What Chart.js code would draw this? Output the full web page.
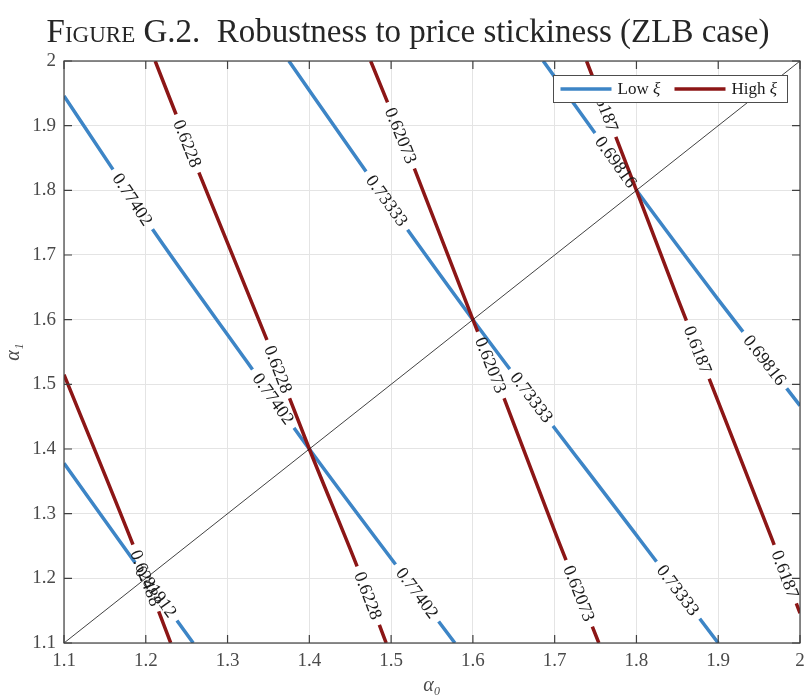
<!DOCTYPE html>
<html>
<head>
<meta charset="utf-8">
<script src="https://cdn.jsdelivr.net/npm/chart.js@4.4.1/dist/chart.umd.min.js"></script>
<style>
  body { margin: 0; background: #fff; }
  #wrap { position: relative; width: 806px; height: 698px; }
  #fig-title { position: absolute; top: 13px; left: 0; width: 816px; text-align: center;
    font: 33px 'Liberation Serif', serif; color: #262626; white-space: nowrap; }
  #fig-title .sc { font-variant: small-caps; }
  canvas { position: absolute; left: 0; top: 0; }
</style>
</head>
<body>
<div id="wrap">
  <canvas id="contours" width="806" height="698"></canvas>
  <div id="fig-title"><span class="sc">Figure</span> G.2.&nbsp; Robustness to price stickiness (ZLB case)</div>
</div>
<script>
/* contour levels, contour paths as (alpha0, alpha1) points, label spots (alpha0) */

const lowLevels = ['0.69816', '0.73333', '0.77402', '0.81912'];
const lowContours = [
  [[1.686, 2.0], [1.8, 1.8], [1.9, 1.631], [2.0, 1.467]],
  [[1.375, 2.0], [1.47, 1.828], [1.6, 1.6], [1.804, 1.26], [1.9, 1.1]],
  [[1.1, 1.946], [1.16, 1.832], [1.207, 1.742], [1.322, 1.538], [1.4, 1.4], [1.578, 1.1]],
  [[1.1, 1.378], [1.187, 1.224], [1.258, 1.1]]
];
const lowLabelAt = [[1.775, 1.957], [1.495, 1.672, 1.851], [1.184, 1.356, 1.532], [1.2125]];

const highLevels = ['0.6187', '0.62073', '0.6228', '0.62488'];
const highContours = [
  [[1.739, 2.0], [1.8, 1.8], [1.851, 1.631], [1.966, 1.26], [2.0, 1.146]],
  [[1.475, 2.0], [1.528, 1.835], [1.6, 1.6], [1.637, 1.482], [1.704, 1.26], [1.754, 1.1]],
  [[1.2115, 2.0], [1.2645, 1.829], [1.348, 1.569], [1.4, 1.4], [1.4595, 1.215], [1.494, 1.1]],
  [[1.1, 1.515], [1.185, 1.25], [1.2305, 1.1]]
];
const highLabelAt = [[1.761, 1.875, 1.982], [1.512, 1.622, 1.73], [1.251, 1.362, 1.472], [1.2]];

const diagonal = [[1.1, 1.1], [2.0, 2.0]];
const axisMin = 1.1, axisMax = 2.0, axisStep = 0.1;

const LOW_COLOR = '#3d85c6';
const HIGH_COLOR = '#8c1616';
const SERIF = '"Liberation Serif", "DejaVu Serif", serif';
const LABEL_FONT = '18px ' + SERIF;
const GAP_PAD = 6.5;
const TICK = 8;

const toPoints = pts => pts.map(([x, y]) => ({ x, y }));

function contourSets(levels, paths, spots, color, order) {
  return levels.map((level, i) => ({
    label: level,
    level,
    labelAt: spots[i],
    data: toPoints(paths[i]),
    borderColor: color,
    borderWidth: 3.5,
    cubicInterpolationMode: 'monotone',
    pointRadius: 0,
    order
  }));
}

// where each label sits on its contour, in pixels, with the local slope angle
function labelSpots(chart, ds) {
  const xs = chart.scales.x, ys = chart.scales.y, ctx = chart.ctx;
  ctx.save();
  ctx.font = LABEL_FONT;
  const w = ctx.measureText(ds.level).width;
  ctx.restore();
  return ds.labelAt.map(a0 => {
    const pts = ds.data;
    let i = 0;
    while (i < pts.length - 2 && pts[i + 1].x < a0) i++;
    const p = pts[i], q = pts[i + 1];
    const t = (a0 - p.x) / (q.x - p.x);
    const a1 = p.y + t * (q.y - p.y);
    const dx = xs.getPixelForValue(q.x) - xs.getPixelForValue(p.x);
    const dy = ys.getPixelForValue(q.y) - ys.getPixelForValue(p.y);
    return { x: xs.getPixelForValue(a0), y: ys.getPixelForValue(a1), angle: Math.atan2(dy, dx), w };
  });
}

/* break each contour under its labels, then write the labels along the line */
const contourLabels = {
  id: 'contourLabels',
  beforeDatasetDraw(chart, args) {
    const ds = chart.data.datasets[args.index];
    if (!ds.labelAt) return;
    const ctx = chart.ctx;
    ctx.save();
    ctx.beginPath();
    ctx.rect(0, 0, chart.width, chart.height);
    labelSpots(chart, ds).forEach(s => {
      const c = Math.cos(s.angle), sn = Math.sin(s.angle);
      const hw = s.w / 2 + GAP_PAD, hh = 6;
      [[-hw, -hh], [hw, -hh], [hw, hh], [-hw, hh]].forEach(([u, v], k) => {
        const px = s.x + u * c - v * sn, py = s.y + u * sn + v * c;
        k ? ctx.lineTo(px, py) : ctx.moveTo(px, py);
      });
      ctx.closePath();
    });
    ctx.clip('evenodd');
  },
  afterDatasetDraw(chart, args) {
    if (chart.data.datasets[args.index].labelAt) chart.ctx.restore();
  },
  afterDatasetsDraw(chart) {
    const ctx = chart.ctx;
    chart.data.datasets.forEach(ds => {
      if (!ds.labelAt) return;
      labelSpots(chart, ds).forEach(s => {
        ctx.save();
        ctx.translate(s.x, s.y);
        ctx.rotate(s.angle);
        ctx.font = LABEL_FONT;
        ctx.fillStyle = '#1a1a1a';
        ctx.textAlign = 'center';
        ctx.textBaseline = 'middle';
        ctx.fillText(ds.level, 0, 1);
        ctx.restore();
      });
    });
  }
};

/* box around the axes, inward ticks on all sides, legend in the corner */
const frame = {
  id: 'frame',
  afterDraw(chart) {
    const { ctx, chartArea: a, scales: { x, y } } = chart;
    ctx.save();
    ctx.strokeStyle = '#404040';
    ctx.lineWidth = 1.2;
    ctx.strokeRect(a.left, a.top, a.right - a.left, a.bottom - a.top);
    ctx.beginPath();
    x.ticks.forEach(t => {
      const px = x.getPixelForValue(t.value);
      ctx.moveTo(px, a.bottom); ctx.lineTo(px, a.bottom - TICK);
      ctx.moveTo(px, a.top); ctx.lineTo(px, a.top + TICK);
    });
    y.ticks.forEach(t => {
      const py = y.getPixelForValue(t.value);
      ctx.moveTo(a.left, py); ctx.lineTo(a.left + TICK, py);
      ctx.moveTo(a.right, py); ctx.lineTo(a.right - TICK, py);
    });
    ctx.stroke();

    // legend
    const bw = 234, bh = 27;
    const bx = a.right - 12.5 - bw, by = a.top + 14.5;
    ctx.fillStyle = '#fff';
    ctx.fillRect(bx, by, bw, bh);
    ctx.strokeStyle = '#4d4d4d';
    ctx.lineWidth = 1;
    ctx.strokeRect(bx, by, bw, bh);
    const items = [['Low', LOW_COLOR, 7], ['High', HIGH_COLOR, 121]];
    const my = by + bh / 2;
    items.forEach(([name, color, off]) => {
      ctx.strokeStyle = color;
      ctx.lineWidth = 3.5;
      ctx.beginPath();
      ctx.moveTo(bx + off, my); ctx.lineTo(bx + off + 51, my);
      ctx.stroke();
      ctx.fillStyle = '#1a1a1a';
      ctx.textBaseline = 'middle';
      ctx.textAlign = 'left';
      ctx.font = '17px ' + SERIF;
      const tx = bx + off + 57;
      ctx.fillText(name + ' ', tx, my + 1);
      const w = ctx.measureText(name + ' ').width;
      ctx.font = 'italic 17px ' + SERIF;
      ctx.fillText('ξ', tx + w, my + 1);
    });
    ctx.restore();
  }
};

const datasets = [
  {
    label: 'diagonal',
    data: toPoints(diagonal),
    borderColor: '#111',
    borderWidth: 0.8,
    pointRadius: 0,
    order: 0
  },
  ...contourSets(highLevels, highContours, highLabelAt, HIGH_COLOR, 1),
  ...contourSets(lowLevels, lowContours, lowLabelAt, LOW_COLOR, 2)
];

const tickFont = { family: SERIF, size: 19 };
const fmt = v => String(Number(v.toFixed(1)));

new Chart(document.getElementById('contours'), {
  type: 'line',
  data: { datasets },
  plugins: [contourLabels, frame],
  options: {
    responsive: false,
    animation: false,
    layout: { padding: { top: 61, right: 6, left: 0, bottom: 0 } },
    plugins: { legend: { display: false }, tooltip: { enabled: false } },
    scales: {
      x: {
        type: 'linear',
        min: axisMin, max: axisMax,
        afterFit: s => { s.height = 55; s.paddingLeft = 0; s.paddingRight = 0; },
        grid: { color: '#e4e4e4', drawTicks: false },
        border: { display: false },
        ticks: { stepSize: axisStep, padding: 7, color: '#4a4a4a', font: tickFont, callback: fmt, maxRotation: 0 },
        title: { display: true, text: 'α₀', color: '#4a4a4a', font: { family: SERIF, size: 20, style: 'italic' }, padding: { top: 0, bottom: 0 } }
      },
      y: {
        type: 'linear',
        min: axisMin, max: axisMax,
        afterFit: s => { s.width = 64; s.paddingTop = 0; s.paddingBottom = 0; },
        grid: { color: '#e4e4e4', drawTicks: false },
        border: { display: false },
        ticks: { stepSize: axisStep, padding: 8, color: '#4a4a4a', font: tickFont, callback: fmt },
        title: { display: true, text: 'α₁', color: '#4a4a4a', font: { family: SERIF, size: 20, style: 'italic' }, padding: { top: 2 } }
      }
    }
  }
});
</script>
</body>
</html>
